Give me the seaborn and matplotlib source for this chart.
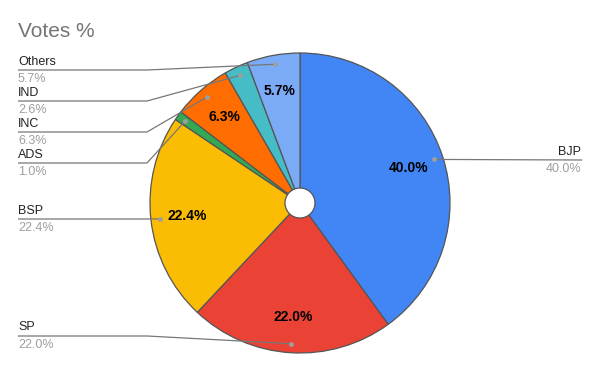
import matplotlib
matplotlib.use("Agg")
import matplotlib.pyplot as plt
from matplotlib.patches import Circle
import seaborn as sns
import numpy as np

parties = ["BJP", "SP", "BSP", "ADS", "INC", "IND", "Others"]
votes = [40.0, 22.0, 22.4, 1.0, 6.3, 2.6, 5.7]
colors = ["#4285F4", "#EA4335", "#FBBC04", "#34A853", "#FF6D01", "#46BDC6", "#7BAAF7"]
title = "Votes %"

# label layout (pixel rows of the leader lines)
label_side = {"BJP": "right", "SP": "left", "BSP": "left", "ADS": "left",
              "INC": "left", "IND": "left", "Others": "left"}
label_row = {"BJP": 160, "SP": 336, "BSP": 219, "ADS": 163,
             "INC": 132, "IND": 101, "Others": 70}

sns.set_theme(style="white")
plt.rcParams['font.family'] = ['Liberation Sans', 'DejaVu Sans']

W, H = 600, 371
CX, CY, R = 300, 203, 150

def px(x, y):
    return ((x - CX) / R, (CY - y) / R)

fig = plt.figure(figsize=(6, 3.71), dpi=100)
ax = fig.add_axes([0, 0, 1, 1])

wedges, texts, autotexts = ax.pie(
    votes, colors=colors, startangle=90, counterclock=False, radius=1,
    autopct=lambda p: f"{p:.1f}%" if p >= 5 else "", pctdistance=0.76,
    wedgeprops=dict(edgecolor="#555555", linewidth=0.9),
    textprops=dict(fontsize=10, fontweight="bold", color="black"))

ax.set_xlim(-CX / R, (W - CX) / R)
ax.set_ylim(-(H - CY) / R, CY / R)
ax.set_aspect('equal')
ax.axis('off')

ax.add_patch(Circle((0, 0), 0.1, facecolor="white", edgecolor="#555555",
                    linewidth=0.9, zorder=5))

line_col = "#777777"
for w, name, val in zip(wedges, parties, votes):
    th = np.deg2rad((w.theta1 + w.theta2) / 2)
    dx, dy = 0.94 * np.cos(th), 0.94 * np.sin(th)
    yrow = label_row[name]
    if label_side[name] == "left":
        x0, y0 = px(18, yrow)
        x1, _ = px(147, yrow)
        ax.plot([x0, x1, dx], [y0, y0, dy], color=line_col, lw=0.9, zorder=6,
                solid_capstyle="butt")
        tx, _ = px(18, 0)
        ha = "left"
    else:
        x0, y0 = px(582, yrow)
        ax.plot([dx, x0], [dy, y0], color=line_col, lw=0.9, zorder=6)
        tx, _ = px(581, 0)
        ha = "right"
    ax.plot([dx], [dy], marker="o", ms=3.5, color="#9E9E9E", mec="none", zorder=7)
    _, ty1 = px(0, yrow - 8.5)
    _, ty2 = px(0, yrow + 9)
    ax.text(tx, ty1, name, ha=ha, va="center", fontsize=9, color="#222222")
    ax.text(tx, ty2, f"{val:.1f}%", ha=ha, va="center", fontsize=9, color="#9E9E9E")

tx, ty = px(18, 31)
ax.text(tx, ty, title, ha="left", va="center", fontsize=15, color="#757575")

fig.savefig("out.png", dpi=100)
